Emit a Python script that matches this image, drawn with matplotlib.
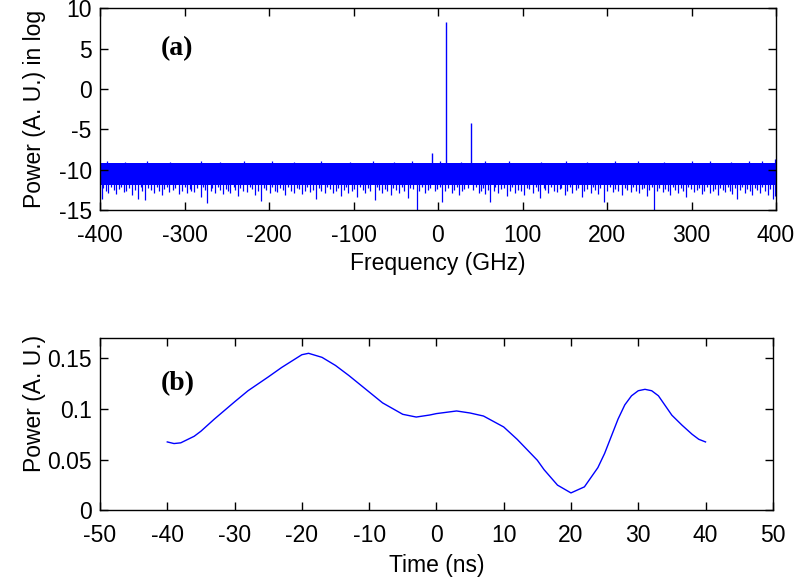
import numpy as np
import matplotlib
matplotlib.use("Agg")
import matplotlib.pyplot as plt

# panel (a): spectrum
freq_lim = [-400, 400]
noise_top = -9.2
noise_bottom = -11.85
peak_freq = [-7, 10, 39]
peak_power = [-7.9, 8.3, -4.2]
# deeper noise dips
dip_freq = [-398, -390, -381, -372, -362, -355, -347, -336, -327, -318, -306, -297,
            -289, -281, -273, -264, -255, -246, -237, -226, -217, -209, -199, -190,
            -181, -170, -161, -152, -144, -134, -124, -115, -106, -96, -86, -75,
            -66, -56, -46, -36, -25, -15, 5, 16, 25, 48, 56, 62, 71, 82, 91, 102,
            113, 121, 130, 141, 150, 159, 170, 181, 189, 196, 207, 218, 228, 238,
            247, 256, 266, 275, 284, 293, 303, 312, 322, 331, 340, 348, 354, 363,
            372, 381, 390, 396]
dip_power = [-13.6, -12.9, -13.0, -12.8, -13.2, -13.6, -13.8, -12.9, -13.1, -12.8, -13.0, -12.9,
             -12.8, -13.4, -14.1, -12.9, -13.0, -12.9, -13.3, -12.8, -13.1, -13.9, -12.9, -12.8,
             -13.2, -12.9, -13.0, -12.8, -13.6, -12.9, -12.9, -13.3, -12.9, -13.4, -12.9, -13.8,
             -12.9, -13.1, -12.9, -13.5, -15.0, -12.9, -14.0, -12.9, -13.2, -12.9, -13.0, -14.0,
             -12.9, -13.3, -12.9, -13.1, -12.9, -13.5, -12.9, -12.8, -13.2, -12.9, -13.4, -12.9,
             -13.0, -14.0, -12.8, -13.1, -12.8, -12.9, -13.3, -15.0, -12.8, -13.1, -12.9, -13.4,
             -12.8, -13.0, -12.9, -13.2, -12.8, -13.0, -13.6, -12.9, -13.1, -12.9, -13.2, -13.6]
# shallow jagged lower edge of the noise floor
edge_freq = [-396, -393, -387, -384, -378, -375, -369, -366, -359, -352, -350, -343, -340,
             -333, -330, -324, -321, -314, -311, -303, -300, -294, -292, -285, -278, -276,
             -269, -267, -260, -258, -251, -249, -242, -240, -234, -231, -223, -220, -213,
             -206, -203, -196, -193, -187, -184, -177, -174, -167, -164, -157, -155, -148,
             -141, -138, -131, -128, -121, -118, -111, -109, -102, -99, -92, -89, -83, -80,
             -72, -70, -63, -60, -53, -50, -43, -40, -33, -30, -22, -19, -12, -9, -4, -1,
             2, 8, 12, 19, 22, 28, 31, 35, 42, 45, 51, 53, 59, 66, 68, 75, 78, 85, 88,
             95, 98, 105, 108, 116, 118, 125, 127, 134, 137, 144, 146, 153, 156, 163, 166,
             173, 176, 184, 186, 192, 200, 203, 210, 213, 221, 224, 231, 234, 241, 244, 250,
             253, 259, 262, 269, 272, 278, 281, 287, 290, 296, 299, 306, 309, 315, 318, 325,
             328, 334, 337, 343, 345, 351, 357, 360, 366, 369, 375, 378, 384, 387, 393, 399]
edge_power = [-12.3, -12.6, -12.2, -12.5, -12.4, -12.2, -12.6, -12.3, -12.5, -12.2, -12.7,
              -12.3, -12.5, -12.2, -12.6, -12.4, -12.2, -12.5, -12.3, -12.6, -12.2, -12.4,
              -12.7, -12.3, -12.2, -12.5, -12.6, -12.3, -12.2, -12.5, -12.4, -12.6, -12.2,
              -12.5, -12.3, -12.7, -12.2, -12.4, -12.6, -12.3, -12.5, -12.2, -12.6, -12.3,
              -12.5, -12.2, -12.7, -12.3, -12.4, -12.6, -12.2, -12.5, -12.3, -12.6, -12.2,
              -12.4, -12.7, -12.3, -12.5, -12.2, -12.6, -12.4, -12.2, -12.5, -12.3, -12.6,
              -12.2, -12.5, -12.4, -12.7, -12.3, -12.5, -12.2, -12.6, -12.3, -12.4, -12.6,
              -12.2, -12.5, -12.3, -12.7, -12.4, -12.2, -12.6, -12.3, -12.5, -12.2, -12.6,
              -12.4, -12.3, -12.5, -12.2, -12.7, -12.3, -12.5, -12.6, -12.2, -12.4, -12.3,
              -12.6, -12.2, -12.5, -12.7, -12.3, -12.4, -12.2, -12.6, -12.3, -12.5, -12.2,
              -12.7, -12.4, -12.3, -12.6, -12.2, -12.5, -12.3, -12.6, -12.4, -12.2, -12.5,
              -12.3, -12.7, -12.2, -12.4, -12.6, -12.3, -12.5, -12.2, -12.6, -12.4, -12.3,
              -12.5, -12.2, -12.7, -12.3, -12.4, -12.6, -12.2, -12.5, -12.3, -12.6, -12.2,
              -12.4, -12.5, -12.3, -12.7, -12.2, -12.6, -12.4, -12.3, -12.5, -12.2, -12.6,
              -12.3, -12.5, -12.2, -12.4, -12.7, -12.3, -12.5, -12.2, -12.6, -12.4, -13.3]
# small spikes over the top of the noise floor
spike_freq = [-392, -371, -344, -317, -281, -258, -229, -196, -170, -139, -104, -77, -52,
              -31, 2, 27, 56, 84, 122, 151, 176, 209, 237, 268, 301, 322, 347, 368, 384, 399]
spike_power = [-8.9, -9.0, -8.95, -9.0, -8.9, -9.0, -8.95, -8.9, -9.0, -8.95, -9.0, -8.9,
               -9.0, -8.95, -8.9, -9.0, -8.9, -8.95, -9.0, -8.9, -9.0, -8.95, -8.9, -9.0,
               -8.95, -8.9, -9.0, -8.9, -8.95, -8.7]

# panel (b): time trace
time_ns = [-40, -39, -38, -36, -35, -33, -30, -28, -25, -23, -20, -19, -17, -15, -13,
           -10, -8, -5, -3, -1, 0, 3, 5, 7, 10, 12, 15, 16, 18, 20, 22, 24, 25, 26, 27,
           28, 29, 30, 31, 32, 33, 35, 36.5, 38, 39, 40]
power_au = [0.0674, 0.0658, 0.0665, 0.073, 0.078, 0.090, 0.107, 0.118, 0.1316, 0.141, 0.1536,
            0.155, 0.151, 0.143, 0.133, 0.1168, 0.106, 0.0947, 0.092, 0.094, 0.0954, 0.098,
            0.096, 0.093, 0.0822, 0.070, 0.0493, 0.040, 0.0247, 0.017, 0.023, 0.042, 0.056,
            0.073, 0.090, 0.104, 0.113, 0.118, 0.1194, 0.118, 0.113, 0.0938, 0.084, 0.075,
            0.070, 0.0674]

plt.rcParams['font.family'] = ['Liberation Sans', 'DejaVu Sans']
plt.rcParams['font.size'] = 16.5
plt.rcParams['axes.unicode_minus'] = False

fig = plt.figure(figsize=(8, 5.85), dpi=100)
ax1 = fig.add_axes([0.125, 0.641, 0.845, 0.345])
ax2 = fig.add_axes([0.125, 0.128, 0.841, 0.294])

blue = (0.0, 0.0, 1.0)
ax1.fill_between(freq_lim, noise_bottom, noise_top, color=blue, lw=0)
ax1.vlines(edge_freq, noise_bottom + 0.1, edge_power, color=blue, lw=0.9)
ax1.vlines(dip_freq, noise_bottom + 0.1, dip_power, color=blue, lw=0.9)
ax1.vlines(spike_freq, noise_top - 0.1, spike_power, color=blue, lw=0.9)
ax1.vlines(peak_freq, noise_top, peak_power, color=blue, lw=1.0)
ax1.set_xlim(freq_lim)
ax1.set_ylim(-15, 10)
ax1.set_xticks(range(-400, 401, 100))
ax1.set_yticks(range(-15, 11, 5))
ax1.set_xlabel("Frequency (GHz)", labelpad=4)
ax1.set_ylabel("Power (A. U.) in log")
ax1.yaxis.set_label_coords(-0.08, 0.5)
ax1.text(-328, 5.0, "(a)", family=['Liberation Serif'], fontweight='bold',
         fontsize=20, va='center')

ax2.plot(time_ns, power_au, color=blue, lw=1.0)
ax2.set_xlim(-50, 50)
ax2.set_ylim(0, 0.17)
ax2.set_xticks(range(-50, 51, 10))
ax2.set_yticks([0, 0.05, 0.1, 0.15])
ax2.set_yticklabels(["0", "0.05", "0.1", "0.15"])
ax2.set_xlabel("Time (ns)", labelpad=5)
ax2.set_ylabel("Power (A. U.)")
ax2.yaxis.set_label_coords(-0.08, 0.62)
ax2.text(-41, 0.125, "(b)", family=['Liberation Serif'], fontweight='bold',
         fontsize=20, va='center')

for ax in (ax1, ax2):
    ax.tick_params(direction='in', top=True, right=True, length=6, width=1, pad=6)
    ax.tick_params(axis='x', pad=10)
    for s in ax.spines.values():
        s.set_linewidth(1.0)

fig.savefig("out.png", dpi=100)
